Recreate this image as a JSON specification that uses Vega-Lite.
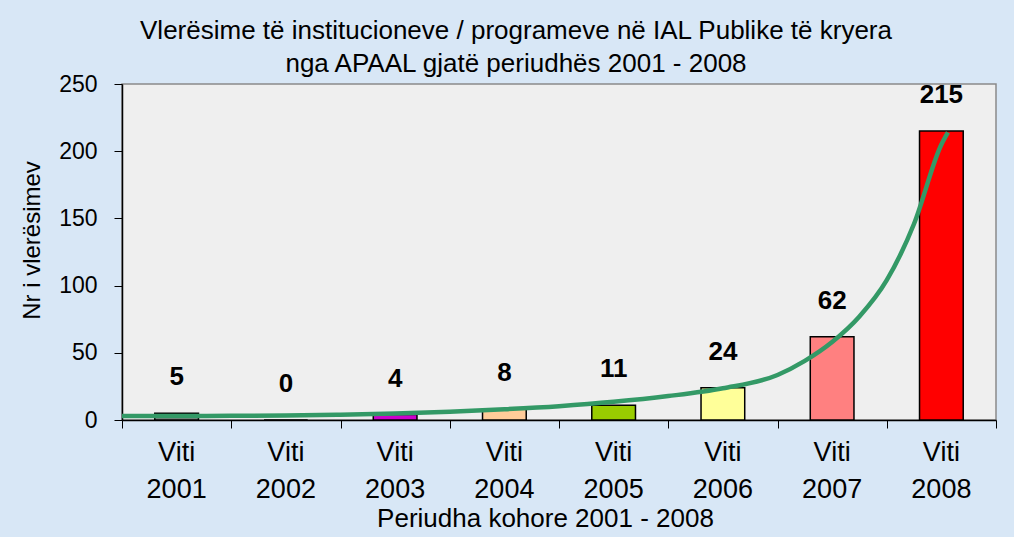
{
  "$schema": "https://vega.github.io/schema/vega-lite/v6.json",
  "width": 874,
  "height": 336,
  "autosize": {"type": "none"},
  "padding": {"left": 122, "top": 84, "right": 18, "bottom": 117},
  "background": "#d8e7f6",
  "config": {
    "font": "Liberation Sans",
    "view": {"fill": "#efefef", "stroke": "#8a8a8a", "strokeWidth": 1.5}
  },
  "title": {
    "text": ["Vlerësime të institucioneve / programeve në IAL Publike të kryera", "nga APAAL gjatë periudhës 2001 - 2008"],
    "font": "Liberation Sans",
    "fontSize": 26,
    "fontWeight": "normal",
    "color": "#000000",
    "anchor": "middle",
    "frame": "group",
    "dx": -43,
    "offset": -4,
    "lineHeight": 33
  },
  "datasets": {
    "bars": [
      {"label": "Viti 2001", "value": 5},
      {"label": "Viti 2002", "value": 0},
      {"label": "Viti 2003", "value": 4},
      {"label": "Viti 2004", "value": 8},
      {"label": "Viti 2005", "value": 11},
      {"label": "Viti 2006", "value": 24},
      {"label": "Viti 2007", "value": 62},
      {"label": "Viti 2008", "value": 215}
    ],
    "trend": [
      {"t": 0.5, "value": 3},
      {"t": 1, "value": 3},
      {"t": 1.5, "value": 3.1},
      {"t": 2, "value": 3.3},
      {"t": 2.5, "value": 3.9},
      {"t": 3, "value": 4.8},
      {"t": 3.5, "value": 6.2},
      {"t": 4, "value": 8},
      {"t": 4.5, "value": 10.3},
      {"t": 5, "value": 13.5},
      {"t": 5.5, "value": 17.8},
      {"t": 6, "value": 23.6},
      {"t": 6.5, "value": 33.5},
      {"t": 6.75, "value": 44},
      {"t": 7, "value": 58},
      {"t": 7.25, "value": 77},
      {"t": 7.5, "value": 104},
      {"t": 7.75, "value": 146},
      {"t": 8, "value": 205},
      {"t": 8.06, "value": 214}
    ]
  },
  "encoding": {
    "y": {
      "field": "value",
      "type": "quantitative",
      "scale": {"domain": [0, 250], "nice": false},
      "axis": {
        "values": [0, 50, 100, 150, 200, 250],
        "tickSize": 8,
        "tickColor": "#000000",
        "domainColor": "#000000",
        "domainWidth": 1.5,
        "grid": false,
        "labelFontSize": 23,
        "labelColor": "#000000",
        "labelPadding": 17,
        "title": "Nr i vlerësimev",
        "titleFontSize": 24,
        "titleFontWeight": "normal",
        "titleColor": "#000000",
        "titlePadding": 14,
        "titleY": 156
      }
    }
  },
  "layer": [
    {
      "data": {"name": "bars"},
      "encoding": {
        "x": {
          "field": "label",
          "type": "nominal",
          "sort": null,
          "scale": {"paddingInner": 0.6, "paddingOuter": 0.3},
          "axis": {
            "orient": "bottom",
            "labelExpr": "split(datum.value, ' ')",
            "labelAngle": 0,
            "ticks": false,
            "domain": false,
            "labelFontSize": 27,
            "labelLineHeight": 37,
            "labelPadding": 19,
            "labelColor": "#000000",
            "title": "Periudha kohore 2001 - 2008",
            "titleFontSize": 26,
            "titleFontWeight": "normal",
            "titleColor": "#000000",
            "titlePadding": 3,
            "titleX": 423
          }
        }
      },
      "layer": [
        {
          "mark": {"type": "bar", "stroke": "#000000", "strokeWidth": 1.5},
          "encoding": {
            "color": {
              "field": "label",
              "type": "nominal",
              "sort": null,
              "scale": {"range": ["#808080", "#9999ff", "#cc00cc", "#ffcc99", "#99cc00", "#ffff99", "#ff8080", "#ff0000"]},
              "legend": null
            }
          }
        },
        {
          "mark": {"type": "text", "fontWeight": "bold", "fontSize": 26, "baseline": "middle", "dy": -36, "color": "#000000"},
          "encoding": {"text": {"field": "value", "type": "quantitative"}}
        }
      ]
    },
    {
      "data": {"name": "trend"},
      "mark": {"type": "line", "color": "#339966", "strokeWidth": 4.5, "interpolate": "monotone"},
      "encoding": {
        "x": {
          "field": "t",
          "type": "quantitative",
          "scale": {"domain": [0.5, 8.5], "nice": false, "zero": false},
          "axis": {
            "orient": "bottom",
            "values": [0.5, 1.5, 2.5, 3.5, 4.5, 5.5, 6.5, 7.5, 8.5],
            "labels": false,
            "ticks": true,
            "tickSize": 8,
            "tickColor": "#000000",
            "domainColor": "#000000",
            "domainWidth": 1.5,
            "grid": false,
            "title": null
          }
        }
      }
    }
  ],
  "resolve": {"scale": {"x": "independent"}, "axis": {"x": "independent"}}
}
